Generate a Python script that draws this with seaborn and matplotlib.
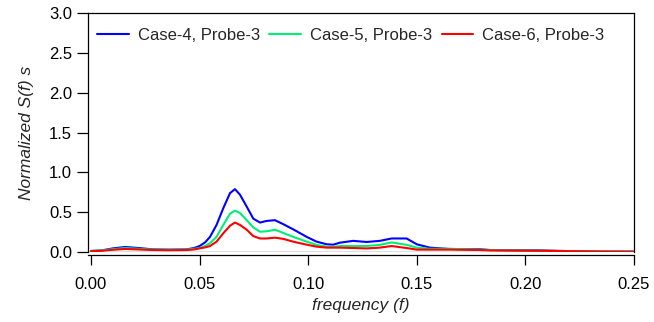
import numpy as np
import pandas as pd
import matplotlib
matplotlib.use("Agg")
import matplotlib.pyplot as plt
import seaborn as sns

# values
FREQ = [0.000, 0.005, 0.010, 0.0157, 0.022, 0.0285, 0.036, 0.044, 0.0475, 0.050,
        0.0525, 0.0548, 0.0578, 0.0609, 0.064, 0.0663, 0.0686, 0.0717, 0.0747, 0.0778,
        0.0808, 0.0847, 0.0885, 0.0931, 0.0993, 0.1039, 0.1085, 0.1115, 0.1146, 0.1207,
        0.1269, 0.133, 0.1384, 0.1453, 0.150, 0.156, 0.165, 0.179, 0.1836, 0.2066,
        0.222, 0.235, 0.25]
CASE4 = [0.013, 0.02, 0.045, 0.063, 0.05, 0.033, 0.03, 0.033, 0.05, 0.075,
         0.12, 0.19, 0.34, 0.55, 0.74, 0.79, 0.72, 0.57, 0.42, 0.37,
         0.39, 0.40, 0.35, 0.285, 0.19, 0.13, 0.097, 0.092, 0.117, 0.14,
         0.126, 0.14, 0.17, 0.17, 0.097, 0.055, 0.038, 0.035, 0.025, 0.02,
         0.01, 0.006, 0.005]
CASE5 = [0.012, 0.02, 0.035, 0.05, 0.04, 0.03, 0.028, 0.03, 0.04, 0.05,
         0.075, 0.11, 0.19, 0.34, 0.48, 0.52, 0.49, 0.40, 0.31, 0.255,
         0.26, 0.28, 0.24, 0.19, 0.13, 0.088, 0.067, 0.065, 0.075, 0.075,
         0.075, 0.09, 0.12, 0.09, 0.055, 0.04, 0.04, 0.03, 0.025, 0.015,
         0.01, 0.006, 0.005]
CASE6 = [0.01, 0.015, 0.028, 0.038, 0.032, 0.025, 0.022, 0.025, 0.032, 0.046,
         0.058, 0.075, 0.13, 0.235, 0.33, 0.37, 0.34, 0.28, 0.20, 0.17,
         0.17, 0.18, 0.165, 0.13, 0.092, 0.067, 0.055, 0.055, 0.055, 0.05,
         0.045, 0.055, 0.075, 0.05, 0.03, 0.03, 0.03, 0.025, 0.02, 0.015,
         0.01, 0.005, 0.003]
LABELS = ["Case-4, Probe-3", "Case-5, Probe-3", "Case-6, Probe-3"]
COLORS = ["#0000ff", "#00ee77", "#ff0000"]

X_TICKS = [0.00, 0.05, 0.10, 0.15, 0.20, 0.25]
Y_TICKS = [0.0, 0.5, 1.0, 1.5, 2.0, 2.5, 3.0]


def main() -> None:
    sns.set_style("ticks")
    plt.rcParams["font.family"] = ["Liberation Sans", "DejaVu Sans"]
    plt.rcParams["font.size"] = 12

    df = pd.concat([
        pd.DataFrame({"freq": FREQ, "S": vals, "case": lab})
        for vals, lab in zip([CASE4, CASE5, CASE6], LABELS)
    ])

    fig = plt.figure(figsize=(6.54, 3.22), dpi=100)
    ax = fig.add_axes([88 / 654, 70 / 322, 546 / 654, 238.7 / 322])

    ax.axhline(0, color="black", lw=0.9, zorder=1)
    sns.lineplot(data=df, x="freq", y="S", hue="case", palette=COLORS,
                 lw=1.5, ax=ax, zorder=3)

    ax.set_xlim(-0.00138, 0.25)
    ax.set_ylim(0, 3.0)
    ax.set_xticks(X_TICKS)
    ax.set_xticklabels([f"{t:.2f}" for t in X_TICKS])
    ax.set_yticks(Y_TICKS)
    ax.set_yticklabels([f"{t:.1f}" for t in Y_TICKS])

    for s in ax.spines.values():
        s.set_visible(True)
        s.set_linewidth(0.9)
        s.set_color("black")
    ax.spines["bottom"].set_position(("outward", 2.3))
    ax.tick_params(axis="both", direction="out", width=0.9, colors="black",
                   labelsize=12)
    ax.tick_params(axis="y", length=8, pad=3.5)
    ax.tick_params(axis="x", length=7, pad=9)

    ax.set_xlabel("frequency (f)", style="italic", fontsize=12.5, labelpad=4)
    ax.set_ylabel("Normalized S(f) s", style="italic", fontsize=12.5, labelpad=11)

    ax.legend(loc="center left", bbox_to_anchor=(0.017, 0.909), ncol=3,
              frameon=False, borderpad=0, borderaxespad=0, handlelength=1.9,
              handletextpad=0.55, columnspacing=0.55, fontsize=12)

    fig.savefig("out.png", dpi=100)
    plt.close()


if __name__ == "__main__":
    main()
